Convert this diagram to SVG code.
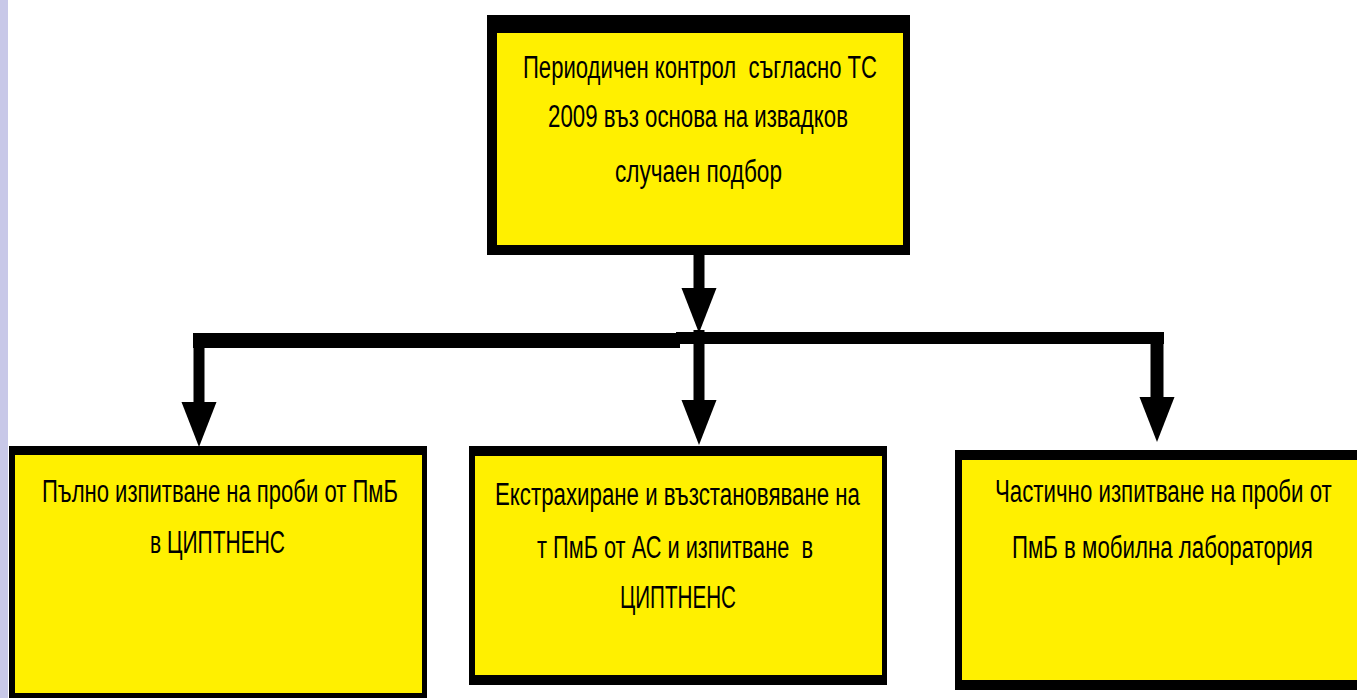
<svg xmlns="http://www.w3.org/2000/svg" width="1357" height="698" viewBox="0 0 1357 698">
<defs>
<style>
.outer{fill:#000}
.inner{fill:#FFF000}
.t{font-family:"Liberation Sans","Noto Sans",sans-serif;font-size:31px;fill:#000}
.ln{stroke:#000;fill:none}
</style>
<marker id="ah" markerUnits="userSpaceOnUse" markerWidth="46" markerHeight="36" refX="0" refY="17.5" orient="auto" viewBox="0 0 46 36">
<path d="M0,0 L45,17.5 L0,35 Z" fill="#000"/>
</marker>
</defs>
<rect x="0" y="0" width="1357" height="698" fill="#fff"/>
<rect x="0" y="0" width="8" height="698" fill="#c8c8e8"/>
<g id="connectors">
<path class="ln" stroke-width="11" d="M699,255 V288" marker-end="url(#ah)"/>
<rect x="193" y="333" width="487" height="15" fill="#000"/>
<rect x="676" y="332" width="488" height="12" fill="#000"/>
<path class="ln" stroke-width="11" d="M199,340 V402" marker-end="url(#ah)"/>
<path class="ln" stroke-width="11" d="M699,330 V400" marker-end="url(#ah)"/>
<path class="ln" stroke-width="13" d="M1157,338 V397" marker-end="url(#ah)"/>
</g>
<g id="node-top">
<rect class="outer" x="487" y="15" width="423" height="240"/>
<rect class="inner" x="497" y="33" width="406" height="212"/>
<text class="t" x="523" y="78" textLength="354" lengthAdjust="spacingAndGlyphs" xml:space="preserve">Периодичен контрол  съгласно ТС</text>
<text class="t" x="548" y="127" textLength="300" lengthAdjust="spacingAndGlyphs">2009 въз основа на извадков</text>
<text class="t" x="615" y="182" textLength="167" lengthAdjust="spacingAndGlyphs">случаен подбор</text>
</g>
<g id="node-left">
<rect class="outer" x="9" y="446" width="418" height="252"/>
<rect class="inner" x="15" y="455" width="407" height="238"/>
<text class="t" x="42" y="502" textLength="356" lengthAdjust="spacingAndGlyphs">Пълно изпитване на проби от ПмБ</text>
<text class="t" x="150" y="553" textLength="135" lengthAdjust="spacingAndGlyphs">в ЦИПТНЕНС</text>
</g>
<g id="node-middle">
<rect class="outer" x="469" y="446" width="418" height="239"/>
<rect class="inner" x="475" y="456" width="407" height="219"/>
<text class="t" x="495" y="505" textLength="365" lengthAdjust="spacingAndGlyphs">Екстрахиране и възстановяване на</text>
<text class="t" x="537" y="558" textLength="276" lengthAdjust="spacingAndGlyphs" xml:space="preserve">т ПмБ от АС и изпитване  в</text>
<text class="t" x="620" y="608" textLength="116" lengthAdjust="spacingAndGlyphs">ЦИПТНЕНС</text>
</g>
<g id="node-right">
<rect class="outer" x="955" y="450" width="402" height="240"/>
<rect class="inner" x="962" y="460" width="395" height="220"/>
<text class="t" transform="translate(995,502) scale(0.75,1)" x="0" y="0" textLength="449" lengthAdjust="spacingAndGlyphs">Частично изпитване на проби от</text>
<text class="t" transform="translate(1012,558) scale(0.75,1)" x="0" y="0" textLength="401" lengthAdjust="spacingAndGlyphs">ПмБ в мобилна лаборатория</text>
</g>
</svg>
